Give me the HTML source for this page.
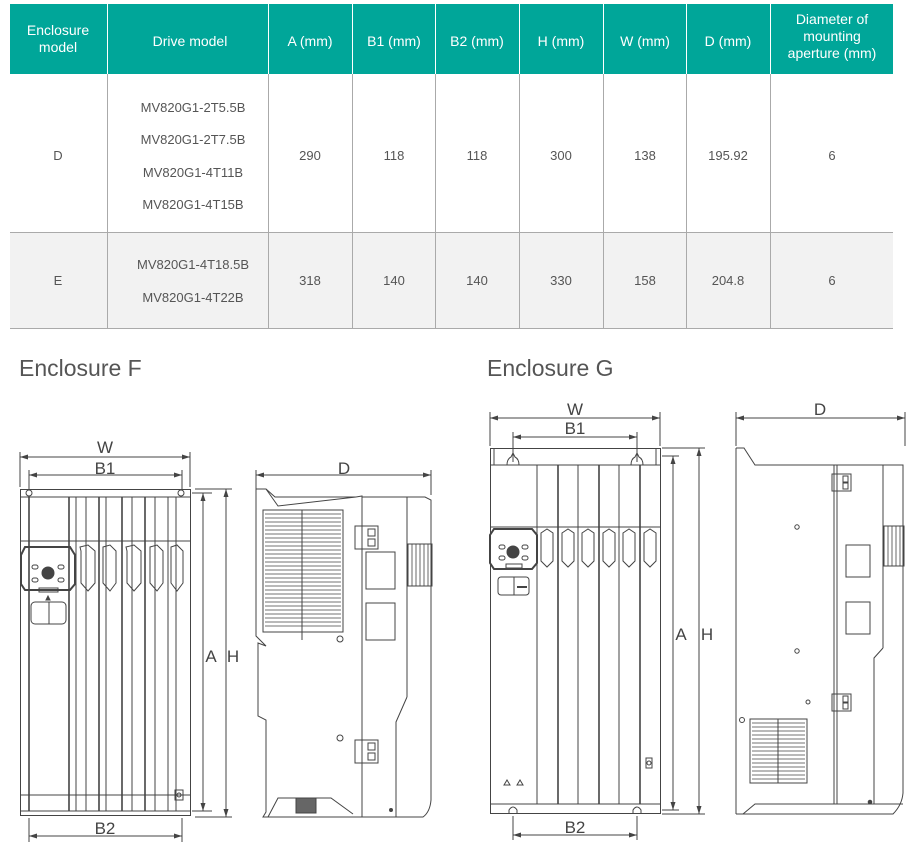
<!DOCTYPE html>
<html><head><meta charset="utf-8"><style>
body{margin:0;background:#fff;}
svg{display:block;font-family:"Liberation Sans",sans-serif;}
</style></head><body>
<svg width="912" height="860" viewBox="0 0 912 860" xmlns="http://www.w3.org/2000/svg">
<defs>
<marker id="ar" markerWidth="8" markerHeight="6" refX="8" refY="3" orient="auto-start-reverse" markerUnits="userSpaceOnUse"><path d="M0,0.5 L8,3 L0,5.5 z" fill="#444"/></marker>
</defs>
<!-- table -->
<rect x="10" y="4" width="883" height="70" fill="#00a699"/>
<rect x="10" y="232" width="883" height="96" fill="#f2f2f2"/>
<g stroke="#fff" stroke-width="1">
<line x1="107.5" y1="4" x2="107.5" y2="74"/><line x1="268.5" y1="4" x2="268.5" y2="74"/><line x1="352.5" y1="4" x2="352.5" y2="74"/><line x1="435.5" y1="4" x2="435.5" y2="74"/><line x1="519.5" y1="4" x2="519.5" y2="74"/><line x1="603.5" y1="4" x2="603.5" y2="74"/><line x1="686.5" y1="4" x2="686.5" y2="74"/><line x1="770.5" y1="4" x2="770.5" y2="74"/>
</g>
<g stroke="#aaa" stroke-width="1">
<line x1="107.5" y1="74" x2="107.5" y2="328"/><line x1="268.5" y1="74" x2="268.5" y2="328"/><line x1="352.5" y1="74" x2="352.5" y2="328"/><line x1="435.5" y1="74" x2="435.5" y2="328"/><line x1="519.5" y1="74" x2="519.5" y2="328"/><line x1="603.5" y1="74" x2="603.5" y2="328"/><line x1="686.5" y1="74" x2="686.5" y2="328"/><line x1="770.5" y1="74" x2="770.5" y2="328"/>
<line x1="10" y1="232.5" x2="893" y2="232.5"/><line x1="10" y1="328.5" x2="893" y2="328.5"/>
</g>
<g fill="#fff" font-size="14" text-anchor="middle">
<text x="58" y="35">Enclosure</text><text x="58" y="52">model</text>
<text x="190" y="46">Drive model</text>
<text x="310" y="46">A (mm)</text><text x="394" y="46">B1 (mm)</text><text x="477" y="46">B2 (mm)</text>
<text x="561" y="46">H (mm)</text><text x="645" y="46">W (mm)</text><text x="728" y="46">D (mm)</text>
<text x="832" y="24">Diameter of</text><text x="832" y="41">mounting</text><text x="832" y="58">aperture (mm)</text>
</g>
<g fill="#555" font-size="13" text-anchor="middle">
<text x="58" y="160">D</text>
<text x="193" y="112">MV820G1-2T5.5B</text><text x="193" y="144">MV820G1-2T7.5B</text><text x="193" y="177">MV820G1-4T11B</text><text x="193" y="209">MV820G1-4T15B</text>
<text x="310" y="160">290</text><text x="394" y="160">118</text><text x="477" y="160">118</text><text x="561" y="160">300</text><text x="645" y="160">138</text><text x="728" y="160">195.92</text><text x="832" y="160">6</text>
<text x="58" y="285">E</text>
<text x="193" y="269">MV820G1-4T18.5B</text><text x="193" y="302">MV820G1-4T22B</text>
<text x="310" y="285">318</text><text x="394" y="285">140</text><text x="477" y="285">140</text><text x="561" y="285">330</text><text x="645" y="285">158</text><text x="728" y="285">204.8</text><text x="832" y="285">6</text>
</g>
<g fill="#555" font-size="23">
<text x="19" y="376">Enclosure F</text><text x="487" y="376">Enclosure G</text>
</g>

<g fill="none" stroke="#444" stroke-width="1">
<!-- ===== F front ===== -->
<line x1="20" y1="457" x2="190" y2="457" marker-start="url(#ar)" marker-end="url(#ar)"/>
<line x1="20" y1="452" x2="20" y2="487"/><line x1="190" y1="452" x2="190" y2="487"/>
<line x1="29" y1="475" x2="182" y2="475" marker-start="url(#ar)" marker-end="url(#ar)"/>
<line x1="29" y1="470" x2="29" y2="490"/><line x1="182" y1="470" x2="182" y2="490"/>
<rect x="20.5" y="489.5" width="170" height="326"/>
<line x1="20" y1="497" x2="190" y2="497"/>
<circle cx="29" cy="493" r="3"/><circle cx="181" cy="493" r="3"/>
<line x1="29" y1="497" x2="29" y2="811" stroke-width="1.6"/>
<line x1="69" y1="497" x2="69" y2="811" stroke-width="1.6"/>
<line x1="76" y1="497" x2="76" y2="811"/><line x1="86" y1="497" x2="86" y2="811"/>
<line x1="99" y1="497" x2="99" y2="811" stroke-width="1.6"/><line x1="106" y1="497" x2="106" y2="811"/>
<line x1="122" y1="497" x2="122" y2="811" stroke-width="1.6"/><line x1="132" y1="497" x2="132" y2="811"/>
<line x1="145" y1="497" x2="145" y2="811" stroke-width="1.6"/><line x1="155" y1="497" x2="155" y2="811"/>
<line x1="168" y1="497" x2="168" y2="811"/><line x1="176" y1="497" x2="176" y2="811"/>
<line x1="20" y1="541" x2="190" y2="541"/>
<line x1="20" y1="795" x2="190" y2="795"/><line x1="20" y1="811" x2="190" y2="811"/>
<path d="M25,547 L70,547 L75,555 L75,584 L70,590 L25,590 L21,584 L21,555 Z" stroke-width="2"/>
<circle cx="48" cy="573" r="6" fill="#444"/>
<rect x="32" y="565" width="6" height="4" rx="2"/><rect x="58" y="565" width="6" height="4" rx="2"/><rect x="32" y="578" width="6" height="4" rx="2"/><rect x="58" y="578" width="6" height="4" rx="2"/>
<rect x="39" y="588" width="19" height="4"/>
<rect x="31" y="602" width="35" height="22" rx="4"/><line x1="49" y1="602" x2="49" y2="624"/>
<path d="M46,600 l2,-4 l2,4z" fill="#444"/>
<g>
<path d="M80,547 l8,-2 l7,6 v32 l-7,8 l-7,-8 v-32z"/>
<path d="M103,547 l7,-2 l6,6 v32 l-6,8 l-7,-8 v-32z"/>
<path d="M126,547 l8,-2 l7,6 v32 l-7,8 l-7,-8 v-32z"/>
<path d="M150,547 l7,-2 l6,6 v32 l-6,8 l-7,-8 v-32z"/>
<path d="M171,547 l6,-2 l6,6 v32 l-6,8 l-6,-8 v-32z"/>
</g>
<rect x="175" y="790" width="8" height="10"/><circle cx="179" cy="795" r="2"/>
<line x1="192" y1="493" x2="212" y2="493"/><line x1="192" y1="811" x2="212" y2="811"/>
<line x1="203" y1="493" x2="203" y2="811" marker-start="url(#ar)" marker-end="url(#ar)"/>
<line x1="195" y1="489" x2="232" y2="489"/><line x1="195" y1="817" x2="232" y2="817"/>
<line x1="226" y1="489" x2="226" y2="817" marker-start="url(#ar)" marker-end="url(#ar)"/>
<line x1="29" y1="818" x2="29" y2="842"/><line x1="182" y1="818" x2="182" y2="842"/>
<line x1="29" y1="836" x2="182" y2="836" marker-start="url(#ar)" marker-end="url(#ar)"/>

<!-- ===== F side ===== -->
<line x1="256" y1="475" x2="431" y2="475" marker-start="url(#ar)" marker-end="url(#ar)"/>
<line x1="256" y1="470" x2="256" y2="490"/><line x1="431" y1="470" x2="431" y2="495"/>
<path d="M256,489 L266,489 L275,497 L356,497 L362,496 L362,497 L425,497 L431,500 L431,800 Q430,812 423,817 L263,817 L266,812 L266,720 L258,716 L258,643 L266,646 L256,636 Z"/>
<path d="M266,489 L278,506 L356,497"/>
<line x1="362" y1="497" x2="362" y2="817"/><line x1="407" y1="497" x2="407" y2="697"/>
<path d="M407,697 L396,722 L396,817"/>
<rect x="263" y="510" width="80" height="122"/>
<line x1="302" y1="510" x2="302" y2="640"/>
<g stroke-width="0.8">
<line x1="265" y1="514" x2="341" y2="514"/><line x1="265" y1="518" x2="341" y2="518"/><line x1="265" y1="522" x2="341" y2="522"/><line x1="265" y1="526" x2="341" y2="526"/><line x1="265" y1="530" x2="341" y2="530"/><line x1="265" y1="534" x2="341" y2="534"/><line x1="265" y1="538" x2="341" y2="538"/><line x1="265" y1="542" x2="341" y2="542"/><line x1="265" y1="546" x2="341" y2="546"/><line x1="265" y1="550" x2="341" y2="550"/><line x1="265" y1="554" x2="341" y2="554"/><line x1="265" y1="558" x2="341" y2="558"/><line x1="265" y1="562" x2="341" y2="562"/><line x1="265" y1="566" x2="341" y2="566"/><line x1="265" y1="570" x2="341" y2="570"/><line x1="265" y1="574" x2="341" y2="574"/><line x1="265" y1="578" x2="341" y2="578"/><line x1="265" y1="582" x2="341" y2="582"/><line x1="265" y1="586" x2="341" y2="586"/><line x1="265" y1="590" x2="341" y2="590"/><line x1="265" y1="594" x2="341" y2="594"/><line x1="265" y1="598" x2="341" y2="598"/><line x1="265" y1="602" x2="341" y2="602"/><line x1="265" y1="606" x2="341" y2="606"/><line x1="265" y1="610" x2="341" y2="610"/><line x1="265" y1="614" x2="341" y2="614"/><line x1="265" y1="618" x2="341" y2="618"/><line x1="265" y1="622" x2="341" y2="622"/><line x1="265" y1="626" x2="341" y2="626"/>
</g>
<rect x="355" y="526" width="23" height="23"/><rect x="368" y="529" width="7" height="7"/><rect x="368" y="539" width="7" height="7"/>
<rect x="366" y="552" width="29" height="37"/><rect x="366" y="603" width="29" height="37"/>
<circle cx="340" cy="639" r="3"/><circle cx="340" cy="738" r="3"/>
<rect x="355" y="740" width="23" height="23"/><rect x="368" y="743" width="7" height="7"/><rect x="368" y="753" width="7" height="7"/>
<rect x="408" y="544" width="24" height="42"/>
<g stroke-width="0.8"><line x1="412" y1="544" x2="412" y2="586"/><line x1="416" y1="544" x2="416" y2="586"/><line x1="420" y1="544" x2="420" y2="586"/><line x1="424" y1="544" x2="424" y2="586"/><line x1="428" y1="544" x2="428" y2="586"/></g>
<path d="M268,817 L278,798 L331,798 L353,814"/>
<rect x="296" y="798" width="20" height="15" fill="#666"/>
<circle cx="391" cy="810" r="1.5" fill="#444"/>

<!-- ===== G front ===== -->
<line x1="490" y1="418" x2="660" y2="418" marker-start="url(#ar)" marker-end="url(#ar)"/>
<line x1="490" y1="412" x2="490" y2="446"/><line x1="660" y1="412" x2="660" y2="446"/>
<line x1="513" y1="437" x2="637" y2="437" marker-start="url(#ar)" marker-end="url(#ar)"/>
<line x1="513" y1="432" x2="513" y2="462"/><line x1="637" y1="432" x2="637" y2="462"/>
<rect x="490.5" y="448.5" width="170" height="365"/>
<line x1="490" y1="465" x2="660" y2="465"/><line x1="490" y1="804" x2="660" y2="804"/>
<line x1="494" y1="448" x2="494" y2="465"/><line x1="656" y1="448" x2="656" y2="465"/>
<path d="M507,465 q0,-6 4,-8 l2,-4 l2,4 q4,2 4,8"/><path d="M631,465 q0,-6 4,-8 l2,-4 l2,4 q4,2 4,8"/>
<path d="M509,814 v-4 q4,-6 8,0 v4"/><path d="M633,814 v-4 q4,-6 8,0 v4"/>
<line x1="537" y1="465" x2="537" y2="804"/>
<line x1="558" y1="465" x2="558" y2="804" stroke-width="1.6"/><line x1="578" y1="465" x2="578" y2="804"/>
<line x1="599" y1="465" x2="599" y2="804" stroke-width="1.6"/><line x1="619" y1="465" x2="619" y2="804"/>
<line x1="640" y1="465" x2="640" y2="804" stroke-width="1.6"/>
<line x1="490" y1="527" x2="660" y2="527"/>
<path d="M494,529 L532,529 L537,535 L537,563 L532,569 L494,569 L490,563 L490,535 Z" stroke-width="2"/>
<circle cx="513" cy="552" r="6" fill="#444"/>
<rect x="499" y="545" width="6" height="4" rx="2"/><rect x="522" y="545" width="6" height="4" rx="2"/><rect x="499" y="556" width="6" height="4" rx="2"/><rect x="522" y="556" width="6" height="4" rx="2"/>
<rect x="506" y="564" width="16" height="4"/>
<rect x="498" y="577" width="31" height="18" rx="3"/><line x1="514" y1="577" x2="514" y2="595"/><line x1="517" y1="587" x2="527" y2="587" stroke-width="2"/>
<g>
<path d="M541,533 l6,-4 l6,4 v28 l-6,6 l-6,-6z"/>
<path d="M562,533 l6,-4 l6,4 v28 l-6,6 l-6,-6z"/>
<path d="M582,533 l6,-4 l6,4 v28 l-6,6 l-6,-6z"/>
<path d="M603,533 l6,-4 l6,4 v28 l-6,6 l-6,-6z"/>
<path d="M623,533 l6,-4 l6,4 v28 l-6,6 l-6,-6z"/>
<path d="M644,533 l6,-4 l6,4 v28 l-6,6 l-6,-6z"/>
</g>
<path d="M504,785 l3,-5 l3,5z"/><path d="M517,785 l3,-5 l3,5z"/>
<rect x="646" y="758" width="6" height="10"/><circle cx="649" cy="763" r="2"/>
<line x1="662" y1="456" x2="679" y2="456"/><line x1="662" y1="810" x2="679" y2="810"/>
<line x1="673" y1="456" x2="673" y2="810" marker-start="url(#ar)" marker-end="url(#ar)"/>
<line x1="662" y1="448" x2="705" y2="448"/><line x1="662" y1="814" x2="705" y2="814"/>
<line x1="699" y1="448" x2="699" y2="814" marker-start="url(#ar)" marker-end="url(#ar)"/>
<line x1="513" y1="816" x2="513" y2="840"/><line x1="637" y1="816" x2="637" y2="840"/>
<line x1="513" y1="835" x2="637" y2="835" marker-start="url(#ar)" marker-end="url(#ar)"/>

<!-- ===== G side ===== -->
<line x1="736" y1="418" x2="905" y2="418" marker-start="url(#ar)" marker-end="url(#ar)"/>
<line x1="736" y1="412" x2="736" y2="446"/><line x1="905" y1="412" x2="905" y2="446"/>
<path d="M736,448 L744,448 L755,465 L903,465 L903,793 Q902,805 893,814 L743,814 L755,804 L903,804"/>
<line x1="736" y1="448" x2="736" y2="814"/><line x1="736" y1="814" x2="743" y2="814"/>
<line x1="834" y1="465" x2="834" y2="804"/><line x1="837" y1="465" x2="837" y2="804"/>
<line x1="883" y1="465" x2="883" y2="648"/><path d="M883,648 L874,658 L874,804"/>
<rect x="832" y="474" width="19" height="17"/><rect x="843" y="476" width="5" height="6"/><rect x="843" y="483" width="5" height="6"/>
<rect x="832" y="694" width="19" height="17"/><rect x="843" y="696" width="5" height="6"/><rect x="843" y="703" width="5" height="6"/>
<rect x="846" y="545" width="24" height="32"/><rect x="846" y="602" width="24" height="32"/>
<circle cx="797" cy="527" r="2.2"/><circle cx="797" cy="651" r="2.2"/><circle cx="808" cy="702" r="2"/><circle cx="742" cy="720" r="2.5"/>
<rect x="750" y="719" width="57" height="64"/>
<line x1="778" y1="719" x2="778" y2="783"/>
<g stroke-width="0.8">
<line x1="752" y1="723" x2="805" y2="723"/><line x1="752" y1="727" x2="805" y2="727"/><line x1="752" y1="731" x2="805" y2="731"/><line x1="752" y1="735" x2="805" y2="735"/><line x1="752" y1="739" x2="805" y2="739"/><line x1="752" y1="743" x2="805" y2="743"/><line x1="752" y1="747" x2="805" y2="747"/><line x1="752" y1="751" x2="805" y2="751"/><line x1="752" y1="755" x2="805" y2="755"/><line x1="752" y1="759" x2="805" y2="759"/><line x1="752" y1="763" x2="805" y2="763"/><line x1="752" y1="767" x2="805" y2="767"/><line x1="752" y1="771" x2="805" y2="771"/><line x1="752" y1="775" x2="805" y2="775"/><line x1="752" y1="779" x2="805" y2="779"/>
</g>
<rect x="884" y="526" width="20" height="40"/>
<g stroke-width="0.8"><line x1="888" y1="526" x2="888" y2="566"/><line x1="892" y1="526" x2="892" y2="566"/><line x1="896" y1="526" x2="896" y2="566"/><line x1="900" y1="526" x2="900" y2="566"/></g>
<circle cx="870" cy="802" r="1.8" fill="#444"/>
</g>
<g fill="#444" font-size="17" text-anchor="middle">
<text x="105" y="453">W</text><text x="105" y="474">B1</text><text x="105" y="834">B2</text>
<text x="211" y="662">A</text><text x="233" y="662">H</text><text x="344" y="474">D</text>
<text x="575" y="415">W</text><text x="575" y="434">B1</text><text x="575" y="833">B2</text>
<text x="681" y="640">A</text><text x="707" y="640">H</text><text x="820" y="415">D</text>
</g>
</svg>
</body></html>
